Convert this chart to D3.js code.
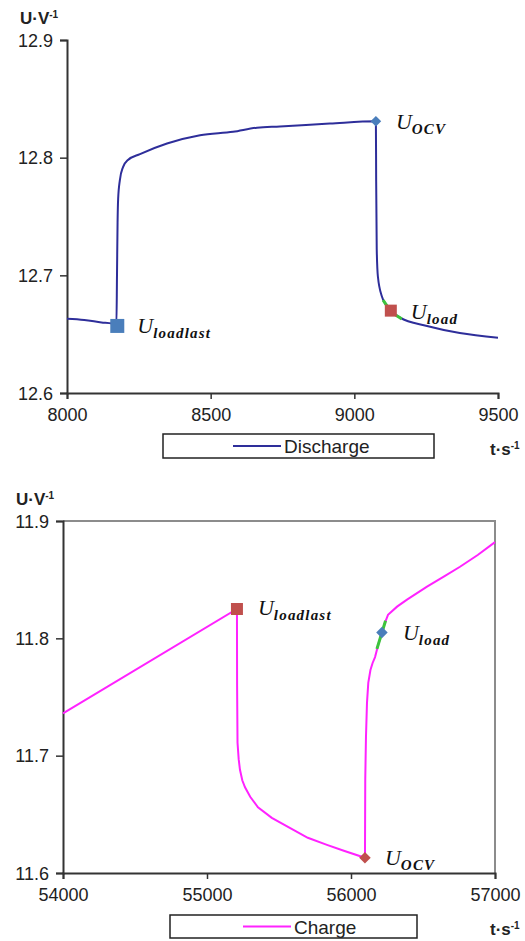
<!DOCTYPE html>
<html>
<head>
<meta charset="utf-8">
<script src="https://cdn.jsdelivr.net/npm/d3@7"></script>
<style>
  body { margin: 0; background: #fff; }
  text { font-family: "Liberation Sans", Arial, sans-serif; }
  .tick text { font-size: 18px; fill: #222; }
  .lbl { font-family: "Liberation Serif", serif; font-style: italic; fill: #111; }
</style>
</head>
<body>
<svg id="chart" width="525" height="941"></svg>
<script>
// discharge curve (top)
const dischargeT = [8000, 8060, 8120, 8157, 8172, 8174, 8176, 8178, 8184, 8195, 8212, 8254, 8348, 8463, 8578, 8661, 8741, 8915, 9075,
  9076, 9078, 9082, 9096, 9110, 9127, 9159, 9253, 9367, 9500];
const dischargeU = [12.663, 12.662, 12.660, 12.659, 12.658, 12.700, 12.745, 12.765, 12.781, 12.792, 12.798, 12.803, 12.812, 12.819, 12.822, 12.8255, 12.8265, 12.829, 12.831,
  12.78, 12.722, 12.699, 12.682, 12.675, 12.670, 12.664, 12.657, 12.651, 12.647];
const dischargeGreenT = [9100, 9127, 9165];
const dischargeGreenU = [12.679, 12.670, 12.663];
const dischargeTicksX = [8000, 8500, 9000, 9500];
const dischargeTicksY = [12.6, 12.7, 12.8, 12.9];

// charge curve (bottom)
const chargeT = [54000, 55208, 55209, 55212, 55220, 55229, 55245, 55264, 55300, 55354, 55450, 55597, 55700, 55833, 55950, 56097,
  56099, 56104, 56111, 56120, 56135, 56150, 56167, 56190, 56215, 56235, 56257, 56320, 56389, 56528, 56650, 56757, 56880, 57000];
const chargeU = [11.736, 11.825, 11.760, 11.711, 11.697, 11.688, 11.679, 11.673, 11.665, 11.656, 11.647, 11.637, 11.630, 11.624, 11.619, 11.613,
  11.680, 11.716, 11.745, 11.762, 11.773, 11.779, 11.784, 11.795, 11.805, 11.813, 11.820, 11.827, 11.833, 11.844, 11.853, 11.861, 11.871, 11.882];
const chargeGreenT = [56180, 56215, 56240];
const chargeGreenU = [11.791, 11.805, 11.815];
const chargeTicksX = [54000, 55000, 56000, 57000];
const chargeTicksY = [11.6, 11.7, 11.8, 11.9];

const svg = d3.select('#chart');

function drawPanel(cfg) {
  const x = d3.scaleLinear().domain(cfg.xDomain).range([cfg.left, cfg.right]);
  const y = d3.scaleLinear().domain(cfg.yDomain).range([cfg.bottom, cfg.top]);
  const g = svg.append('g');

  if (cfg.frame) {
    g.append('path')
      .attr('d', `M${cfg.left},${cfg.top}H${cfg.right}V${cfg.bottom}`)
      .attr('fill', 'none')
      .attr('stroke', '#8c8c8c')
      .attr('stroke-width', 2);
  }

  const xAxis = g.append('g')
    .attr('transform', `translate(0,${cfg.bottom})`)
    .call(d3.axisBottom(x).tickValues(cfg.ticksX).tickFormat(d3.format('d')).tickSize(6).tickPadding(9));
  const yAxis = g.append('g')
    .attr('transform', `translate(${cfg.left},0)`)
    .call(d3.axisLeft(y).tickValues(cfg.ticksY).tickFormat(d3.format('.1f')).tickSize(7).tickPadding(7));
  [xAxis, yAxis].forEach(a => {
    a.select('.domain').attr('stroke', '#333').attr('stroke-width', 2);
    a.selectAll('.tick line').attr('stroke', '#333').attr('stroke-width', 1.5);
  });
  yAxis.selectAll('.tick text').attr('dy', '0.35em');

  const line = d3.line().x(d => x(d[0])).y(d => y(d[1])).curve(cfg.curve);
  g.append('path')
    .datum(cfg.t.map((t, i) => [t, cfg.u[i]]))
    .attr('d', line)
    .attr('fill', 'none')
    .attr('stroke', cfg.color)
    .attr('stroke-width', 2);
  g.append('path')
    .datum(cfg.gt.map((t, i) => [t, cfg.gu[i]]))
    .attr('d', line)
    .attr('fill', 'none')
    .attr('stroke', '#3cc43c')
    .attr('stroke-width', 3);

  cfg.markers.forEach(m => {
    const size = m.shape === 'square' ? m.size * m.size : m.size * m.size / 2;
    g.append('path')
      .attr('d', d3.symbol(m.shape === 'square' ? d3.symbolSquare : d3.symbolDiamond2, size)())
      .attr('transform', `translate(${x(m.t)},${y(m.u)})`)
      .attr('fill', m.color);
    const lab = g.append('text')
      .attr('class', 'lbl')
      .attr('x', x(m.t) + m.dx)
      .attr('y', y(m.u) + m.dy)
      .attr('font-size', 22);
    lab.append('tspan').text('U');
    lab.append('tspan').attr('font-size', 15).attr('font-weight', 'bold')
      .attr('letter-spacing', 1.2).attr('dy', 5).text(m.sub);
  });

  // axis titles
  const yt = g.append('text').attr('x', cfg.left - 47).attr('y', cfg.top - 16)
    .attr('font-weight', 'bold').attr('font-size', 17).attr('fill', '#222');
  yt.append('tspan').text('U·V');
  yt.append('tspan').attr('font-size', 10).attr('dy', -6).text('-1');
  const xt = g.append('text').attr('x', 490).attr('y', cfg.bottom + 62)
    .attr('font-weight', 'bold').attr('font-size', 17).attr('fill', '#222');
  xt.append('tspan').text('t·s');
  xt.append('tspan').attr('font-size', 10).attr('dy', -6).text('-1');

  // legend
  const lg = g.append('g');
  lg.append('rect')
    .attr('x', cfg.legend.x).attr('y', cfg.legend.y)
    .attr('width', cfg.legend.w).attr('height', cfg.legend.h)
    .attr('fill', '#fff').attr('stroke', '#222').attr('stroke-width', 1.5);
  const my = cfg.legend.y + cfg.legend.h / 2;
  lg.append('line')
    .attr('x1', cfg.legend.lx).attr('x2', cfg.legend.lx + 48)
    .attr('y1', my).attr('y2', my)
    .attr('stroke', cfg.color).attr('stroke-width', 2);
  lg.append('text')
    .attr('x', cfg.legend.lx + 51).attr('y', my + 7)
    .attr('font-size', 19).attr('fill', '#222')
    .text(cfg.name);
}

drawPanel({
  xDomain: [8000, 9500], yDomain: [12.6, 12.9],
  left: 67, right: 498, top: 40, bottom: 393,
  ticksX: dischargeTicksX, ticksY: dischargeTicksY,
  t: dischargeT, u: dischargeU, gt: dischargeGreenT, gu: dischargeGreenU,
  color: '#2e2e9a', name: 'Discharge', frame: false, curve: d3.curveMonotoneX,
  markers: [
    { t: 8175, u: 12.657, shape: 'square', size: 14, color: '#4a7ebb', sub: 'loadlast', dx: 20, dy: 7 },
    { t: 9075, u: 12.831, shape: 'diamond', size: 12, color: '#4a7ebb', sub: 'OCV', dx: 20, dy: 8 },
    { t: 9127, u: 12.670, shape: 'square', size: 12, color: '#c0504d', sub: 'load', dx: 20, dy: 8 }
  ],
  legend: { x: 163, y: 434, w: 271, h: 24, lx: 233 }
});

drawPanel({
  xDomain: [54000, 57000], yDomain: [11.6, 11.9],
  left: 63, right: 495, top: 521, bottom: 873,
  ticksX: chargeTicksX, ticksY: chargeTicksY,
  t: chargeT, u: chargeU, gt: chargeGreenT, gu: chargeGreenU,
  color: '#ff22ff', name: 'Charge', frame: true, curve: d3.curveLinear,
  markers: [
    { t: 55208, u: 11.825, shape: 'square', size: 12, color: '#c0504d', sub: 'loadlast', dx: 21, dy: 6 },
    { t: 56097, u: 11.613, shape: 'diamond', size: 13, color: '#c0504d', sub: 'OCV', dx: 20, dy: 7 },
    { t: 56215, u: 11.805, shape: 'diamond', size: 13, color: '#4a7ebb', sub: 'load', dx: 21, dy: 8 }
  ],
  legend: { x: 170, y: 915, w: 247, h: 23, lx: 243 }
});
</script>
</body>
</html>
